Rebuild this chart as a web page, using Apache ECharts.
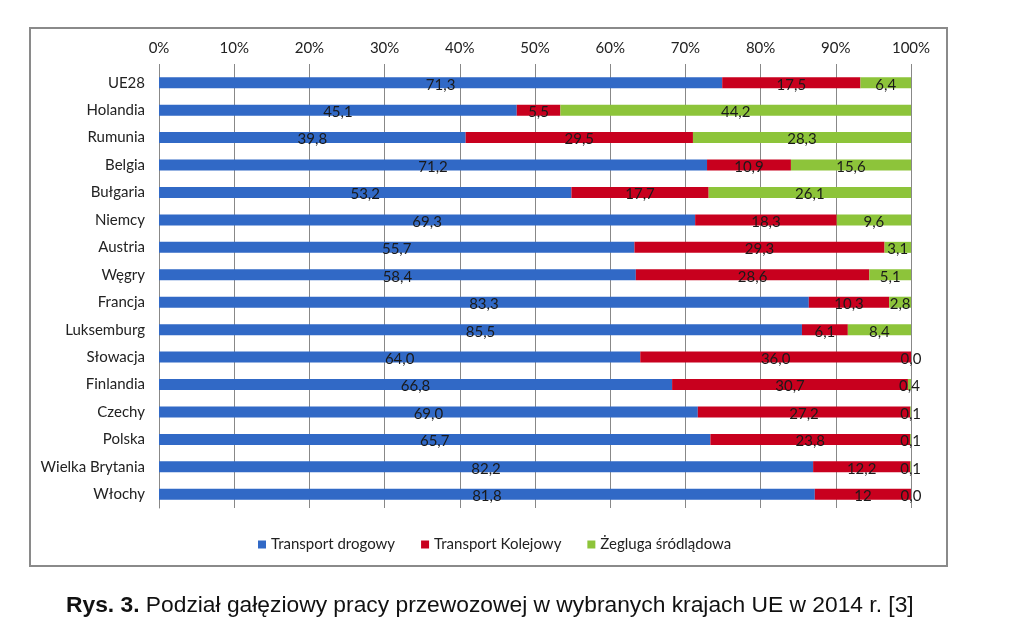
<!DOCTYPE html>
<html><head><meta charset="utf-8">
<script src="https://cdn.jsdelivr.net/npm/echarts@6/dist/echarts.min.js"></script>
<style>html,body{margin:0;padding:0;background:#fff}#c{width:1024px;height:623px}</style>
</head><body><div id="c"></div>
<script>
const categories = ['UE28','Holandia','Rumunia','Belgia','Bułgaria','Niemcy','Austria','Węgry','Francja','Luksemburg','Słowacja','Finlandia','Czechy','Polska','Wielka Brytania','Włochy'];
const road  = [71.3,45.1,39.8,71.2,53.2,69.3,55.7,58.4,83.3,85.5,64.0,66.8,69.0,65.7,82.2,81.8];
const rail  = [17.5,5.5,29.5,10.9,17.7,18.3,29.3,28.6,10.3,6.1,36.0,30.7,27.2,23.8,12.2,12];
const water = [6.4,44.2,28.3,15.6,26.1,9.6,3.1,5.1,2.8,8.4,0.0,0.4,0.1,0.1,0.1,0.0];
const railLabelOverride = {15: '12'};
const seriesNames = ['Transport drogowy','Transport Kolejowy','Żegluga śródlądowa'];
const colors = ['#3169C6','#C8001E','#8DC43A'];

const sums = categories.map((_, i) => road[i] + rail[i] + water[i]);
const raw = [road, rail, water];
const fmt = v => v.toFixed(1).replace('.', ',');

const chart = echarts.init(document.getElementById('c'), null, {renderer: 'canvas'});
const font = 'Lato, "Open Sans", sans-serif';
chart.setOption({
  animation: false,
  backgroundColor: '#fff',
  graphic: [{
    type: 'rect', shape: {x: 30, y: 28, width: 917, height: 538},
    style: {fill: 'none', stroke: '#8a8a8a', lineWidth: 2}, z: -1
  }],
  title: {
    text: '{b|Rys. 3.} Podział gałęziowy pracy przewozowej w wybranych krajach UE w 2014 r. [3]',
    left: 61, top: 589,
    textStyle: {
      fontFamily: '"Liberation Sans", Arial, sans-serif', fontSize: 22.8, fontWeight: 'normal', color: '#111',
      rich: {b: {fontFamily: '"Liberation Sans", Arial, sans-serif', fontSize: 22.8, fontWeight: 'bold', color: '#111'}}
    }
  },
  legend: {
    data: seriesNames, top: 532, left: 253, icon: 'rect', itemWidth: 8, itemHeight: 8, itemGap: 26,
    textStyle: {fontFamily: font, fontSize: 15, color: '#222'}
  },
  grid: {left: 159, right: 113, top: 69, bottom: 115},
  xAxis: {
    type: 'value', position: 'top', min: 0, max: 100, interval: 10,
    axisLabel: {formatter: '{value}%', fontFamily: font, fontSize: 15, color: '#222', margin: 13},
    axisLine: {show: false},
    axisTick: {show: true, length: 5, lineStyle: {color: '#888'}},
    splitLine: {lineStyle: {color: '#888', width: 1}}
  },
  yAxis: {
    type: 'category', data: categories, inverse: true,
    axisLine: {lineStyle: {color: '#888'}},
    axisTick: {length: 5, lineStyle: {color: '#888'}},
    axisLabel: {fontFamily: font, fontSize: 15, color: '#222', margin: 14}
  },
  series: seriesNames.map((name, s) => ({
    name, type: 'bar', stack: 'total', barWidth: 11,
    itemStyle: {color: colors[s]},
    label: {
      show: true, position: 'inside', color: '#1a1a1a', fontFamily: font, fontSize: 15, offset: [0, 2],
      formatter: p => (s === 1 && railLabelOverride[p.dataIndex] !== undefined) ? railLabelOverride[p.dataIndex] : fmt(raw[s][p.dataIndex])
    },
    data: raw[s].map((v, i) => v / sums[i] * 100)
  }))
});
</script></body></html>
